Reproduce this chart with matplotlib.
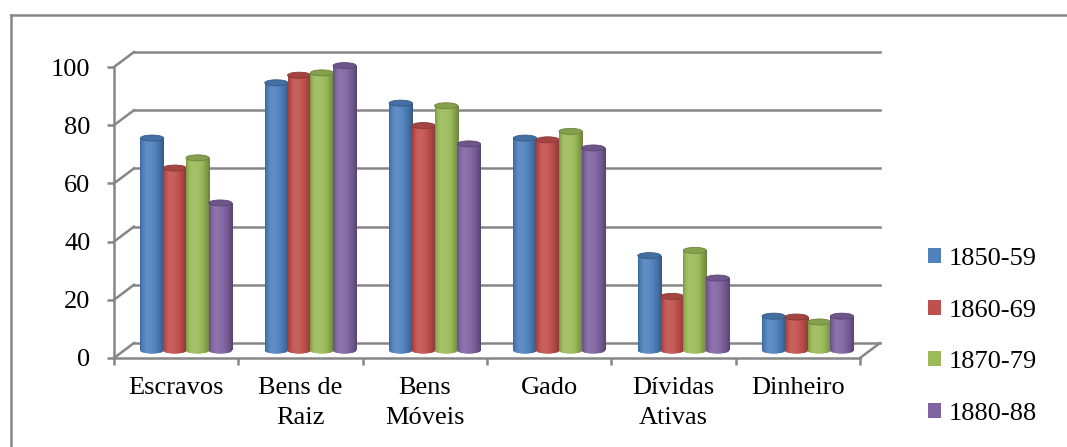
import numpy as np
import matplotlib
matplotlib.use("Agg")
import matplotlib.pyplot as plt
from matplotlib.patches import Ellipse, Patch
from matplotlib.lines import Line2D

plt.rcParams['font.family'] = ['Liberation Serif', 'DejaVu Serif']

# data -------------------------------------------------------------
categories = ['Escravos', 'Bens de\nRaiz', 'Bens\nMóveis', 'Gado', 'Dívidas\nAtivas', 'Dinheiro']
periods = ['1850-59', '1860-69', '1870-79', '1880-88']
v1850 = [73, 92, 85, 73, 32.6, 11.8]
v1860 = [62.7, 94.6, 77.3, 72.4, 18.6, 11.5]
v1870 = [66.2, 95.4, 84.1, 75.3, 34.4, 9.8]
v1880 = [50.7, 97.9, 71, 69.6, 24.9, 11.8]
series = [v1850, v1860, v1870, v1880]
colors = ['#4F81BD', '#C0504D', '#9BBB59', '#8064A2']
yticks = [0, 20, 40, 60, 80, 100]

grid_c = '#868686'
fs = 19

# figure and "3d" geometry ----------------------------------------
W, H = 1067, 447
fig = plt.figure(figsize=(W / 100, H / 100), dpi=100)
px_x = 124.33          # pixels per category
px_y = 2.91            # pixels per unit of value
ncat = len(categories)
xmax, ymax = 6.2, 106
ax = fig.add_axes([114 / W, (H - 358) / H, xmax * px_x / W, ymax * px_y / H])
ddx = 20 / px_x        # depth shift (back wall)
ddy = 15 / px_y

# back wall gridlines + left wall diagonals
for v in yticks:
    ax.plot([ddx, ncat + ddx], [v + ddy, v + ddy], color=grid_c, lw=1.8, clip_on=False, zorder=1)
    ax.plot([0, ddx], [v, v + ddy], color=grid_c, lw=1.8, clip_on=False, zorder=1)
# floor right edge
ax.plot([ncat, ncat + ddx], [0, ddy], color=grid_c, lw=1.8, clip_on=False, zorder=1)


def shade(base, n=64):
    rgb = np.array(matplotlib.colors.to_rgb(base))
    t = np.linspace(0, 1, n)
    b = np.where(t < 0.3, 1.1 - 0.3 * ((0.3 - t) / 0.3) ** 2,
                 1.1 - 0.42 * ((t - 0.3) / 0.7) ** 2)
    out = []
    for k in b:
        if k > 1:
            c = rgb + (1 - rgb) * (k - 1)
        else:
            c = rgb * k
        out.append(np.clip(c, 0, 1))
    return np.array(out)[None, :, :]


# cylinders
bw = 22.75 / px_x
eh = 6 / px_y
for i in range(ncat):
    for j, vals in enumerate(series):
        xc = i + 0.5 + ddx / 2 + (j - 1.5) * bw
        y0 = ddy / 2
        v = vals[i]
        z = 3 + i * 0.1 + j * 0.01
        bar = ax.bar(xc, v, bw * 1.02, bottom=y0, color=colors[j], lw=0, zorder=z, clip_on=False)[0]
        bot = Ellipse((xc, y0), bw * 1.02, eh, color=colors[j], lw=0, zorder=z, clip_on=False)
        ax.add_patch(bot)
        grad = shade(colors[j])
        for p in (bar, bot):
            im = ax.imshow(grad, extent=[xc - bw * 0.51, xc + bw * 0.51, y0 - eh, y0 + v],
                           aspect='auto', interpolation='bilinear', zorder=z + 0.001)
            im.set_clip_path(p)
        rgb = np.array(matplotlib.colors.to_rgb(colors[j]))
        top = Ellipse((xc, y0 + v), bw * 1.02, eh, facecolor=rgb * 0.86, edgecolor=rgb * 0.7,
                      lw=0.6, zorder=z + 0.002, clip_on=False)
        ax.add_patch(top)

ax.set_xlim(0, xmax)
ax.set_ylim(0, ymax)

# axes ------------------------------------------------------------
for s in ['top', 'right']:
    ax.spines[s].set_visible(False)
ax.spines['left'].set_bounds(0, 100)
ax.spines['bottom'].set_bounds(0, ncat)
for s in ['left', 'bottom']:
    ax.spines[s].set_color(grid_c)
    ax.spines[s].set_linewidth(1.8)
    ax.spines[s].set_zorder(2)

ax.set_yticks(yticks)
ax.set_yticklabels([str(v) for v in yticks], fontsize=fs)
ax.tick_params(axis='y', length=5, width=1.8, color=grid_c, pad=12)
ax.set_xticks(np.arange(ncat + 1))
ax.set_xticklabels([])
ax.tick_params(axis='x', which='major', length=5, width=1.8, color=grid_c)
ax.set_xticks(np.arange(ncat) + 0.5, minor=True)
ax.set_xticklabels(categories, minor=True, fontsize=fs, linespacing=1.45)
ax.tick_params(axis='x', which='minor', length=0, pad=14)
ax.patch.set_visible(False)

# legend
handles = [Patch(facecolor=c, edgecolor='none') for c in colors]
fig.legend(handles, periods, loc='center left', bbox_to_anchor=(928 / W, (H - 336.5) / H),
           frameon=False, fontsize=fs, borderpad=0, borderaxespad=0, handlelength=0.49,
           handleheight=0.49, handletextpad=0.3, labelspacing=1.12)

# outer chart border (left and top edges only are inside the picture)
fig.add_artist(Line2D([11 / W, 11 / W], [0, (H - 15) / H], color=grid_c, lw=1.8))
fig.add_artist(Line2D([11 / W, 1], [(H - 15) / H, (H - 15) / H], color=grid_c, lw=1.8))

fig.savefig('out.png', dpi=100)
